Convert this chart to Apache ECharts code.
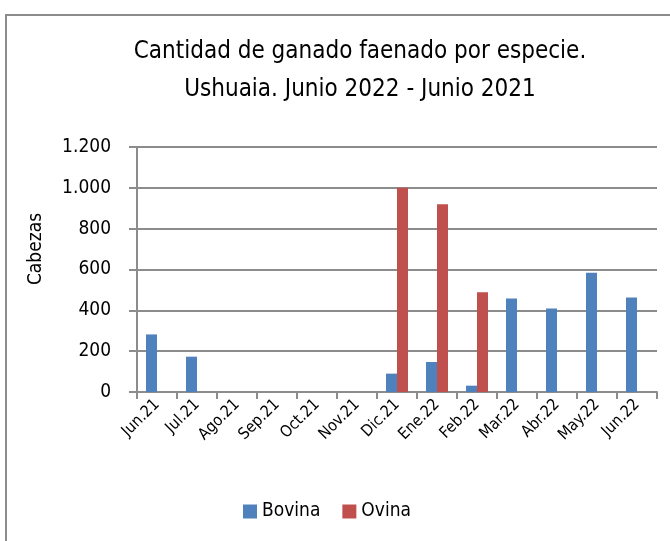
<!DOCTYPE html>
<html>
<head>
<meta charset="utf-8">
<script src="https://cdn.jsdelivr.net/npm/echarts@6/dist/echarts.min.js"></script>
<style>
html,body{margin:0;padding:0;background:#fff;}
#c{width:670px;height:541px;}
</style>
</head>
<body>
<div id="c"></div>
<script>
const categories = ['Jun.21','Jul.21','Ago.21','Sep.21','Oct.21','Nov.21','Dic.21','Ene.22','Feb.22','Mar.22','Abr.22','May.22','Jun.22'];
const bovina = [282, 173, 0, 0, 0, 0, 90, 147, 31, 458, 409, 584, 463];
const ovina  = [0, 0, 0, 0, 0, 0, 1000, 920, 488, 0, 0, 0, 0];
const titleLines = ['Cantidad de ganado faenado por especie.', 'Ushuaia. Junio 2022 - Junio 2021'];
const yAxisName = 'Cabezas';

const FONT = '"DejaVu Sans Condensed", "Liberation Sans Narrow", sans-serif';
const chart = echarts.init(document.getElementById('c'));
chart.setOption({
  animation: false,
  textStyle: { fontFamily: FONT },
  graphic: [{
    type: 'polyline',
    shape: { points: [[6, 560], [6, 15], [680, 15]] },
    style: { stroke: '#8c8c8c', lineWidth: 2, fill: null }
  }, {
    type: 'text',
    x: 36, y: 249, rotation: Math.PI / 2,
    style: { text: yAxisName, fontFamily: FONT, fontSize: 19, fill: '#000', align: 'center', verticalAlign: 'middle' }
  }],
  title: {
    text: titleLines.join('\n'),
    left: 355, top: 28, textAlign: 'center',
    textStyle: { fontFamily: FONT, fontSize: 24, fontWeight: 'normal', color: '#000', lineHeight: 38 }
  },
  legend: {
    data: ['Bovina', 'Ovina'],
    left: 238, top: 497,
    itemWidth: 14, itemHeight: 14, itemGap: 22,
    icon: 'rect',
    textStyle: { fontFamily: FONT, fontSize: 19, color: '#000' }
  },
  grid: { left: 137, right: 13, top: 147, bottom: 149 },
  xAxis: {
    type: 'category',
    data: categories,
    axisLine: { lineStyle: { color: '#8c8c8c', width: 2 } },
    axisTick: { show: true, length: 7, lineStyle: { color: '#8c8c8c', width: 2 } },
    axisLabel: { rotate: 45, fontFamily: FONT, fontSize: 16, color: '#000', margin: 10 }
  },
  yAxis: {
    type: 'value',
    min: 0, max: 1200, interval: 200,
    axisLine: { show: true, lineStyle: { color: '#8c8c8c', width: 2 } },
    axisTick: { show: true, length: 8, lineStyle: { color: '#8c8c8c', width: 2 } },
    splitLine: { lineStyle: { color: '#8c8c8c', width: 2 } },
    axisLabel: {
      fontFamily: FONT, fontSize: 19, color: '#000', margin: 26,
      formatter: v => String(v).replace(/\B(?=(\d{3})+(?!\d))/g, '.')
    }
  },
  series: [
    { name: 'Bovina', type: 'bar', data: bovina, barWidth: 11, barGap: '0%', itemStyle: { color: '#4F81BD' } },
    { name: 'Ovina', type: 'bar', data: ovina, barWidth: 11, barGap: '0%', itemStyle: { color: '#C0504D' } }
  ]
});
</script>
</body>
</html>
